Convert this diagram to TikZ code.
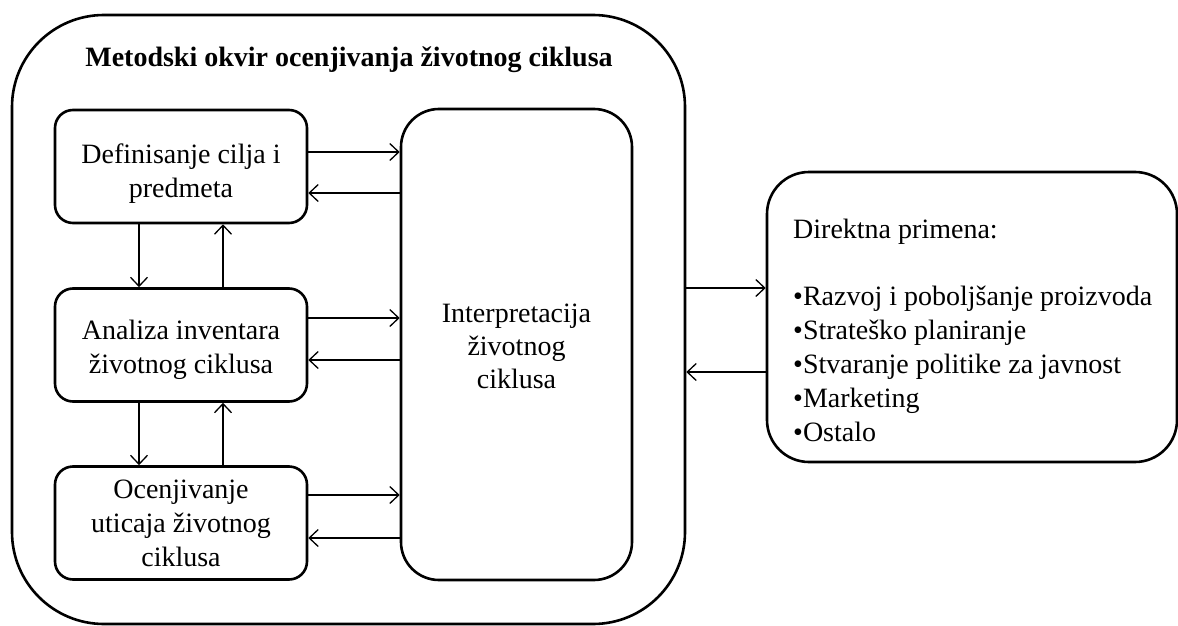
\documentclass[tikz,border=0pt]{standalone}
\usepackage{fontspec}
\setmainfont{Liberation Serif}
\usetikzlibrary{arrows.meta}
\begin{document}
\begin{tikzpicture}[x=1pt,y=-1pt,
  frame/.style={draw, line width=2.6pt, rounded corners=#1, inner sep=0pt},
  boxtext/.style={align=center, font=\fontsize{28}{34}\selectfont},
  stagebox/.style={frame=18pt, minimum width=252pt, minimum height=113pt},
  flow/.style={line width=1.3pt, -{Straight Barb[length=9pt,width=17pt,line width=1.3pt]}}
]
\useasboundingbox (0,0) rectangle (1178,626);

% outer framework and its title
\node[frame=92pt, minimum width=673pt, minimum height=609pt] (outer) at (348.5,319.5) {};
\node[font=\fontsize{28}{34}\selectfont\bfseries] (title) at (349,60)
  {Metodski okvir ocenjivanja životnog ciklusa};

% the three stages
\node[stagebox, label={[boxtext, yshift=-7pt]center:{Definisanje cilja i\\predmeta}}] (def) at (181,166.5) {};
\node[stagebox, label={[boxtext, yshift=-5pt]center:{Analiza inventara\\životnog ciklusa}}] (ana) at (181,345) {};
\node[stagebox, label={[boxtext]center:{Ocenjivanje\\uticaja životnog\\ciklusa}}] (oce) at (181,523) {};

% interpretation column
\node[frame=38pt, minimum width=231pt, minimum height=471pt,
  label={[align=center, font=\fontsize{28}{33}\selectfont, yshift=-1.5pt]center:{Interpretacija\\životnog\\ciklusa}}] (int) at (516.5,344.5) {};

% direct applications
\node[frame=42pt, minimum width=410pt, minimum height=290pt] (app) at (972,317) {};
\node[anchor=base west, align=left, font=\fontsize{28}{33.8}\selectfont, inner sep=0pt] (apptext) at (793,441)
  {Direktna primena:\\[34pt]
   •Razvoj i poboljšanje proizvoda\\
   •Strateško planiranje\\
   •Stvaranje politike za javnost\\
   •Marketing\\
   •Ostalo};

% stages <-> interpretation
\draw[flow] ([yshift=14.5pt]def.east) -- ([yshift=14.5pt]def.east -| int.west);
\draw[flow] ([yshift=-26.5pt]def.east -| int.west) -- ([yshift=-26.5pt]def.east);
\draw[flow] ([yshift=27pt]ana.east) -- ([yshift=27pt]ana.east -| int.west);
\draw[flow] ([yshift=-15pt]ana.east -| int.west) -- ([yshift=-15pt]ana.east);
\draw[flow] ([yshift=28pt]oce.east) -- ([yshift=28pt]oce.east -| int.west);
\draw[flow] ([yshift=-15pt]oce.east -| int.west) -- ([yshift=-15pt]oce.east);

% stage to stage
\draw[flow] ([xshift=-42pt]def.south) -- ([xshift=-42pt]ana.north);
\draw[flow] ([xshift=42pt]ana.north) -- ([xshift=42pt]def.south);
\draw[flow] ([xshift=-42pt]ana.south) -- ([xshift=-42pt]oce.north);
\draw[flow] ([xshift=42pt]oce.north) -- ([xshift=42pt]ana.south);

% framework <-> applications
\draw[flow] ([yshift=31.5pt]outer.east) -- ([yshift=31.5pt]outer.east -| app.west);
\draw[flow] ([yshift=-52.5pt]outer.east -| app.west) -- ([yshift=-52.5pt]outer.east);
\end{tikzpicture}
\end{document}
